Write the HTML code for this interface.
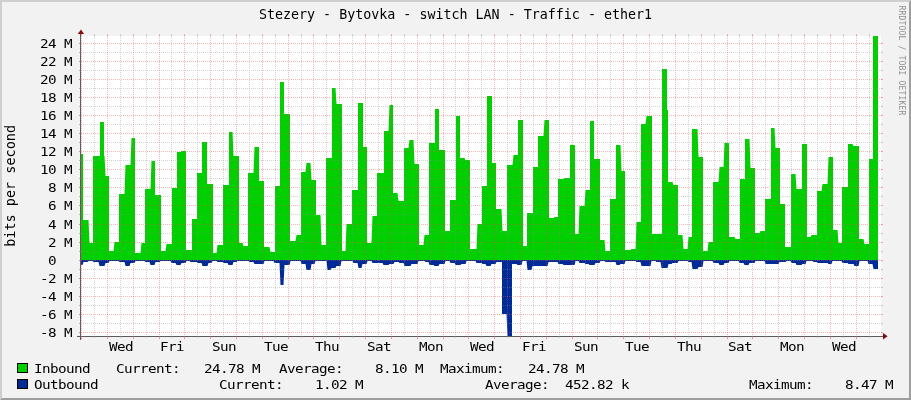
<!DOCTYPE html>
<html><head><meta charset="utf-8"><title>Stezery - Bytovka - switch LAN - Traffic - ether1</title>
<style>html,body{margin:0;padding:0;background:#F2F2F2;}body{width:911px;height:400px;overflow:hidden;}</style>
</head><body>
<svg width="911" height="400" viewBox="0 0 911 400" style="display:block"><rect x="0" y="0" width="911" height="400" fill="#F2F2F2"/><polygon points="0,0 911,0 909,2 2,2 2,398 0,400" fill="#CFCFCF"/><polygon points="911,0 911,400 0,400 2,398 909,398 909,2" fill="#9E9E9E"/><rect x="81" y="36" width="800" height="300" fill="#FFFFFF"/><path d="M81,260 L81,154 L83,154 L83,220 L88.5,220 L89.5,243 L93,243 L93,156 L100,156 L100,122 L104,122 L104,156 L104.5,156 L105.5,176 L109,176 L109,251 L113.5,251 L114.5,242 L119,242 L119,194 L124.5,194 L125.5,165 L130.5,165 L131.5,138 L135,138 L135,253 L140.5,253 L141.5,243 L145,243 L145,189 L150.5,189 L151.5,161 L155,161 L155,195 L161,195 L161,251 L165.5,251 L166.5,244 L172,244 L172,188 L177,188 L177,152 L180.5,152 L181.5,151 L186,151 L186,250 L192,250 L192,219 L197,219 L197,173 L202,173 L202,142 L207,142 L207,184 L213,184 L213,253 L216.5,253 L217.5,245 L223,245 L223,185 L229,185 L229,132 L232.5,132 L233.5,156 L239,156 L239,243 L242.5,243 L243.5,246 L248,246 L248,173 L253.5,173 L254.5,147 L259,147 L259,181 L264,181 L264,247 L269.5,247 L270.5,252 L275,252 L275,186 L280,186 L280,82 L284,82 L284,114 L290,114 L290,241 L295.5,241 L296.5,235 L301,235 L301,172 L305.5,172 L306.5,163 L310.5,163 L311.5,180 L316,180 L316,215 L320.5,215 L321.5,245 L326,245 L326,158 L332,158 L332,88 L335.5,88 L336.5,104 L342,104 L342,251 L345.5,251 L346.5,224 L352,224 L352,190 L358,190 L358,103 L363,103 L363,147 L367,147 L367,243 L371.5,243 L372.5,216 L377,216 L377,173 L384,173 L384,131 L388.5,131 L389.5,105 L393,105 L393,193 L397.5,193 L398.5,201 L404,201 L404,148 L408.5,148 L409.5,140 L413.5,140 L414.5,164 L419,164 L419,245 L423.5,245 L424.5,235 L429,235 L429,143 L435,143 L435,109 L439,109 L439,150 L445,150 L445,231 L450,231 L450,200 L456,200 L456,116 L460,116 L460,158 L464.5,158 L465.5,160 L470,160 L470,249 L476.5,249 L477.5,224 L482,224 L482,186 L487,186 L487,96 L492,96 L492,163 L496,163 L496,209 L501.5,209 L502.5,231 L507,231 L507,165 L512.5,165 L513.5,155 L518,155 L518,120 L523,120 L523,246 L527,246 L527,213 L533,213 L533,167 L538,167 L538,136 L543.5,136 L544.5,120 L549,120 L549,218 L553.5,218 L554.5,217 L558,217 L558,179 L563.5,179 L564.5,178 L570,178 L570,145 L575,145 L575,234 L578.5,234 L579.5,206 L584.5,206 L585.5,190 L590,190 L590,121 L594,121 L594,159 L600,159 L600,240 L604.5,240 L605.5,251 L610,251 L610,199 L616,199 L616,145 L620.5,145 L621.5,171 L625,171 L625,250 L630.5,250 L631.5,249 L635.5,249 L636.5,222 L641,222 L641,124 L645.5,124 L646.5,116 L652,116 L652,234 L662,234 L662,69 L667,69 L667,110 L668,110 L668,182 L672.5,182 L673.5,185 L678,185 L678,235 L682.5,235 L683.5,249 L687.5,249 L688.5,237 L692,237 L692,129 L697.5,129 L698.5,157 L703,157 L703,251 L707.5,251 L708.5,242 L713,242 L713,182 L718.5,182 L719.5,167 L723.5,167 L724.5,143 L729,143 L729,237 L734.5,237 L735.5,239 L740,239 L740,179 L745,179 L745,139 L749.5,139 L750.5,168 L755,168 L755,233 L759.5,233 L760.5,231 L765,231 L765,199 L771,199 L771,128 L774.5,128 L775.5,148 L780,148 L780,204 L785,204 L785,247 L791,247 L791,174 L795.5,174 L796.5,189 L802,189 L802,144 L807,144 L807,237 L810.5,237 L811.5,235 L817,235 L817,191 L821.5,191 L822.5,184 L827.5,184 L828.5,157 L833,157 L833,230 L837.5,230 L838.5,243 L842,243 L842,187 L848,187 L848,144 L852.5,144 L853.5,146 L859,146 L859,239 L863.5,239 L864.5,244 L869,244 L869,159 L873,159 L873,36 L878,36 L878,260Z" fill="#00CF00"/><path d="M81,260 L81,265 L82.5,265 L83.5,262 L87.5,262 L88.5,261 L92.5,261 L93.5,262 L98.5,262 L99.5,266 L104.5,266 L105.5,263 L108.5,263 L109.5,261 L114.5,261 L115.5,261 L118.5,261 L119.5,262 L124.5,262 L125.5,266 L129.5,266 L130.5,263 L134.5,263 L135.5,261 L144.5,261 L145.5,262 L149.5,262 L150.5,265 L154.5,265 L155.5,262 L159.5,262 L160.5,261 L170.5,261 L171.5,263 L175.5,263 L176.5,265 L180.5,265 L181.5,263 L185.5,263 L186.5,261 L189.5,261 L190.5,262 L196.5,262 L197.5,263 L201.5,263 L202.5,266 L207.5,266 L208.5,263 L211.5,263 L212.5,261 L216.5,261 L217.5,262 L222.5,262 L223.5,263 L227.5,263 L228.5,265 L232.5,265 L233.5,262 L236.5,262 L237.5,261 L248.5,261 L249.5,262 L253.5,262 L254.5,264 L263.5,264 L264.5,261 L273.5,261 L274.5,263 L279.5,263 L280.5,285 L283.5,285 L284.5,265 L289.5,265 L290.5,261 L300.5,261 L301.5,264 L305.5,264 L306.5,270 L310.5,270 L311.5,264 L314.5,264 L315.5,261 L326.5,261 L327.5,270 L330.5,270 L331.5,268 L335.5,268 L336.5,266 L340.5,266 L341.5,261 L352.5,261 L353.5,263 L357.5,263 L358.5,268 L361.5,268 L362.5,264 L366.5,264 L367.5,261 L371.5,261 L372.5,263 L382.5,263 L383.5,265 L388.5,265 L389.5,264 L393.5,264 L394.5,262 L398.5,262 L399.5,263 L403.5,263 L404.5,266 L410.5,266 L411.5,264 L417.5,264 L418.5,261 L424.5,261 L425.5,262 L428.5,262 L429.5,265 L433.5,265 L434.5,266 L438.5,266 L439.5,264 L444.5,264 L445.5,261 L449.5,261 L450.5,263 L454.5,263 L455.5,265 L460.5,265 L461.5,264 L465.5,264 L466.5,261 L475.5,261 L476.5,263 L481.5,263 L482.5,264 L485.5,264 L486.5,266 L490.5,266 L491.5,264 L495.5,264 L496.5,262 L502,262 L502,314 L506.5,314 L507.5,336 L512,336 L512,264 L516.5,264 L517.5,265 L521.5,265 L522.5,261 L526.5,261 L527.5,270 L531.5,270 L532.5,266 L543.5,266 L544.5,266 L547.5,266 L548.5,262 L557.5,262 L558.5,264 L562.5,264 L563.5,265 L574.5,265 L575.5,261 L578.5,261 L579.5,263 L584.5,263 L585.5,264 L588.5,264 L589.5,265 L594.5,265 L595.5,263 L599.5,263 L600.5,261 L604.5,261 L605.5,262 L615.5,262 L616.5,265 L619.5,265 L620.5,264 L624.5,264 L625.5,261 L635.5,261 L636.5,262 L640.5,262 L641.5,266 L650.5,266 L651.5,261 L655.5,261 L656.5,262 L660.5,262 L661.5,268 L667.5,268 L668.5,264 L671.5,264 L672.5,263 L677.5,263 L678.5,261 L687.5,261 L688.5,262 L691.5,262 L692.5,269 L697.5,269 L698.5,267 L702.5,267 L703.5,261 L712.5,261 L713.5,263 L718.5,263 L719.5,265 L723.5,265 L724.5,263 L728.5,263 L729.5,261 L738.5,261 L739.5,263 L743.5,263 L744.5,265 L748.5,265 L749.5,263 L754.5,263 L755.5,261 L764.5,261 L765.5,264 L778.5,264 L779.5,262 L785.5,262 L786.5,261 L790.5,261 L791.5,263 L795.5,263 L796.5,265 L801.5,265 L802.5,264 L805.5,264 L806.5,261 L812.5,261 L813.5,262 L816.5,262 L817.5,263 L827.5,263 L828.5,264 L831.5,264 L832.5,261 L841.5,261 L842.5,263 L847.5,263 L848.5,264 L853.5,264 L854.5,266 L858.5,266 L859.5,261 L867.5,261 L868.5,264 L872.5,264 L873.5,269 L878,269 L878,260Z" fill="#002A97"/><rect x="80" y="34" width="1" height="306" fill="#5C5C5C"/><rect x="77" y="336" width="807" height="1" fill="#5C5C5C"/><g shape-rendering="crispEdges"><line x1="79" y1="332.5" x2="883" y2="332.5" stroke="rgba(222,80,80,0.42)" stroke-width="1" stroke-dasharray="1 1"/><line x1="79" y1="332.5" x2="81" y2="332.5" stroke="rgba(222,80,80,0.42)" stroke-width="1"/><line x1="881" y1="332.5" x2="883" y2="332.5" stroke="rgba(222,80,80,0.42)" stroke-width="1"/><line x1="79" y1="323.5" x2="883" y2="323.5" stroke="rgba(143,143,143,0.38)" stroke-width="1" stroke-dasharray="1 1"/><line x1="79" y1="323.5" x2="81" y2="323.5" stroke="rgba(143,143,143,0.38)" stroke-width="1"/><line x1="881" y1="323.5" x2="883" y2="323.5" stroke="rgba(143,143,143,0.38)" stroke-width="1"/><line x1="79" y1="314.5" x2="883" y2="314.5" stroke="rgba(222,80,80,0.42)" stroke-width="1" stroke-dasharray="1 1"/><line x1="79" y1="314.5" x2="81" y2="314.5" stroke="rgba(222,80,80,0.42)" stroke-width="1"/><line x1="881" y1="314.5" x2="883" y2="314.5" stroke="rgba(222,80,80,0.42)" stroke-width="1"/><line x1="79" y1="305.5" x2="883" y2="305.5" stroke="rgba(143,143,143,0.38)" stroke-width="1" stroke-dasharray="1 1"/><line x1="79" y1="305.5" x2="81" y2="305.5" stroke="rgba(143,143,143,0.38)" stroke-width="1"/><line x1="881" y1="305.5" x2="883" y2="305.5" stroke="rgba(143,143,143,0.38)" stroke-width="1"/><line x1="79" y1="296.5" x2="883" y2="296.5" stroke="rgba(222,80,80,0.42)" stroke-width="1" stroke-dasharray="1 1"/><line x1="79" y1="296.5" x2="81" y2="296.5" stroke="rgba(222,80,80,0.42)" stroke-width="1"/><line x1="881" y1="296.5" x2="883" y2="296.5" stroke="rgba(222,80,80,0.42)" stroke-width="1"/><line x1="79" y1="287.5" x2="883" y2="287.5" stroke="rgba(143,143,143,0.38)" stroke-width="1" stroke-dasharray="1 1"/><line x1="79" y1="287.5" x2="81" y2="287.5" stroke="rgba(143,143,143,0.38)" stroke-width="1"/><line x1="881" y1="287.5" x2="883" y2="287.5" stroke="rgba(143,143,143,0.38)" stroke-width="1"/><line x1="79" y1="278.5" x2="883" y2="278.5" stroke="rgba(222,80,80,0.42)" stroke-width="1" stroke-dasharray="1 1"/><line x1="79" y1="278.5" x2="81" y2="278.5" stroke="rgba(222,80,80,0.42)" stroke-width="1"/><line x1="881" y1="278.5" x2="883" y2="278.5" stroke="rgba(222,80,80,0.42)" stroke-width="1"/><line x1="79" y1="269.5" x2="883" y2="269.5" stroke="rgba(143,143,143,0.38)" stroke-width="1" stroke-dasharray="1 1"/><line x1="79" y1="269.5" x2="81" y2="269.5" stroke="rgba(143,143,143,0.38)" stroke-width="1"/><line x1="881" y1="269.5" x2="883" y2="269.5" stroke="rgba(143,143,143,0.38)" stroke-width="1"/><line x1="79" y1="260.5" x2="883" y2="260.5" stroke="rgba(222,80,80,0.42)" stroke-width="1" stroke-dasharray="1 1"/><line x1="79" y1="260.5" x2="81" y2="260.5" stroke="rgba(222,80,80,0.42)" stroke-width="1"/><line x1="881" y1="260.5" x2="883" y2="260.5" stroke="rgba(222,80,80,0.42)" stroke-width="1"/><line x1="79" y1="251.5" x2="883" y2="251.5" stroke="rgba(143,143,143,0.38)" stroke-width="1" stroke-dasharray="1 1"/><line x1="79" y1="251.5" x2="81" y2="251.5" stroke="rgba(143,143,143,0.38)" stroke-width="1"/><line x1="881" y1="251.5" x2="883" y2="251.5" stroke="rgba(143,143,143,0.38)" stroke-width="1"/><line x1="79" y1="242.5" x2="883" y2="242.5" stroke="rgba(222,80,80,0.42)" stroke-width="1" stroke-dasharray="1 1"/><line x1="79" y1="242.5" x2="81" y2="242.5" stroke="rgba(222,80,80,0.42)" stroke-width="1"/><line x1="881" y1="242.5" x2="883" y2="242.5" stroke="rgba(222,80,80,0.42)" stroke-width="1"/><line x1="79" y1="233.5" x2="883" y2="233.5" stroke="rgba(143,143,143,0.38)" stroke-width="1" stroke-dasharray="1 1"/><line x1="79" y1="233.5" x2="81" y2="233.5" stroke="rgba(143,143,143,0.38)" stroke-width="1"/><line x1="881" y1="233.5" x2="883" y2="233.5" stroke="rgba(143,143,143,0.38)" stroke-width="1"/><line x1="79" y1="224.5" x2="883" y2="224.5" stroke="rgba(222,80,80,0.42)" stroke-width="1" stroke-dasharray="1 1"/><line x1="79" y1="224.5" x2="81" y2="224.5" stroke="rgba(222,80,80,0.42)" stroke-width="1"/><line x1="881" y1="224.5" x2="883" y2="224.5" stroke="rgba(222,80,80,0.42)" stroke-width="1"/><line x1="79" y1="214.5" x2="883" y2="214.5" stroke="rgba(143,143,143,0.38)" stroke-width="1" stroke-dasharray="1 1"/><line x1="79" y1="214.5" x2="81" y2="214.5" stroke="rgba(143,143,143,0.38)" stroke-width="1"/><line x1="881" y1="214.5" x2="883" y2="214.5" stroke="rgba(143,143,143,0.38)" stroke-width="1"/><line x1="79" y1="205.5" x2="883" y2="205.5" stroke="rgba(222,80,80,0.42)" stroke-width="1" stroke-dasharray="1 1"/><line x1="79" y1="205.5" x2="81" y2="205.5" stroke="rgba(222,80,80,0.42)" stroke-width="1"/><line x1="881" y1="205.5" x2="883" y2="205.5" stroke="rgba(222,80,80,0.42)" stroke-width="1"/><line x1="79" y1="196.5" x2="883" y2="196.5" stroke="rgba(143,143,143,0.38)" stroke-width="1" stroke-dasharray="1 1"/><line x1="79" y1="196.5" x2="81" y2="196.5" stroke="rgba(143,143,143,0.38)" stroke-width="1"/><line x1="881" y1="196.5" x2="883" y2="196.5" stroke="rgba(143,143,143,0.38)" stroke-width="1"/><line x1="79" y1="187.5" x2="883" y2="187.5" stroke="rgba(222,80,80,0.42)" stroke-width="1" stroke-dasharray="1 1"/><line x1="79" y1="187.5" x2="81" y2="187.5" stroke="rgba(222,80,80,0.42)" stroke-width="1"/><line x1="881" y1="187.5" x2="883" y2="187.5" stroke="rgba(222,80,80,0.42)" stroke-width="1"/><line x1="79" y1="178.5" x2="883" y2="178.5" stroke="rgba(143,143,143,0.38)" stroke-width="1" stroke-dasharray="1 1"/><line x1="79" y1="178.5" x2="81" y2="178.5" stroke="rgba(143,143,143,0.38)" stroke-width="1"/><line x1="881" y1="178.5" x2="883" y2="178.5" stroke="rgba(143,143,143,0.38)" stroke-width="1"/><line x1="79" y1="169.5" x2="883" y2="169.5" stroke="rgba(222,80,80,0.42)" stroke-width="1" stroke-dasharray="1 1"/><line x1="79" y1="169.5" x2="81" y2="169.5" stroke="rgba(222,80,80,0.42)" stroke-width="1"/><line x1="881" y1="169.5" x2="883" y2="169.5" stroke="rgba(222,80,80,0.42)" stroke-width="1"/><line x1="79" y1="160.5" x2="883" y2="160.5" stroke="rgba(143,143,143,0.38)" stroke-width="1" stroke-dasharray="1 1"/><line x1="79" y1="160.5" x2="81" y2="160.5" stroke="rgba(143,143,143,0.38)" stroke-width="1"/><line x1="881" y1="160.5" x2="883" y2="160.5" stroke="rgba(143,143,143,0.38)" stroke-width="1"/><line x1="79" y1="151.5" x2="883" y2="151.5" stroke="rgba(222,80,80,0.42)" stroke-width="1" stroke-dasharray="1 1"/><line x1="79" y1="151.5" x2="81" y2="151.5" stroke="rgba(222,80,80,0.42)" stroke-width="1"/><line x1="881" y1="151.5" x2="883" y2="151.5" stroke="rgba(222,80,80,0.42)" stroke-width="1"/><line x1="79" y1="142.5" x2="883" y2="142.5" stroke="rgba(143,143,143,0.38)" stroke-width="1" stroke-dasharray="1 1"/><line x1="79" y1="142.5" x2="81" y2="142.5" stroke="rgba(143,143,143,0.38)" stroke-width="1"/><line x1="881" y1="142.5" x2="883" y2="142.5" stroke="rgba(143,143,143,0.38)" stroke-width="1"/><line x1="79" y1="133.5" x2="883" y2="133.5" stroke="rgba(222,80,80,0.42)" stroke-width="1" stroke-dasharray="1 1"/><line x1="79" y1="133.5" x2="81" y2="133.5" stroke="rgba(222,80,80,0.42)" stroke-width="1"/><line x1="881" y1="133.5" x2="883" y2="133.5" stroke="rgba(222,80,80,0.42)" stroke-width="1"/><line x1="79" y1="124.5" x2="883" y2="124.5" stroke="rgba(143,143,143,0.38)" stroke-width="1" stroke-dasharray="1 1"/><line x1="79" y1="124.5" x2="81" y2="124.5" stroke="rgba(143,143,143,0.38)" stroke-width="1"/><line x1="881" y1="124.5" x2="883" y2="124.5" stroke="rgba(143,143,143,0.38)" stroke-width="1"/><line x1="79" y1="115.5" x2="883" y2="115.5" stroke="rgba(222,80,80,0.42)" stroke-width="1" stroke-dasharray="1 1"/><line x1="79" y1="115.5" x2="81" y2="115.5" stroke="rgba(222,80,80,0.42)" stroke-width="1"/><line x1="881" y1="115.5" x2="883" y2="115.5" stroke="rgba(222,80,80,0.42)" stroke-width="1"/><line x1="79" y1="106.5" x2="883" y2="106.5" stroke="rgba(143,143,143,0.38)" stroke-width="1" stroke-dasharray="1 1"/><line x1="79" y1="106.5" x2="81" y2="106.5" stroke="rgba(143,143,143,0.38)" stroke-width="1"/><line x1="881" y1="106.5" x2="883" y2="106.5" stroke="rgba(143,143,143,0.38)" stroke-width="1"/><line x1="79" y1="97.5" x2="883" y2="97.5" stroke="rgba(222,80,80,0.42)" stroke-width="1" stroke-dasharray="1 1"/><line x1="79" y1="97.5" x2="81" y2="97.5" stroke="rgba(222,80,80,0.42)" stroke-width="1"/><line x1="881" y1="97.5" x2="883" y2="97.5" stroke="rgba(222,80,80,0.42)" stroke-width="1"/><line x1="79" y1="88.5" x2="883" y2="88.5" stroke="rgba(143,143,143,0.38)" stroke-width="1" stroke-dasharray="1 1"/><line x1="79" y1="88.5" x2="81" y2="88.5" stroke="rgba(143,143,143,0.38)" stroke-width="1"/><line x1="881" y1="88.5" x2="883" y2="88.5" stroke="rgba(143,143,143,0.38)" stroke-width="1"/><line x1="79" y1="79.5" x2="883" y2="79.5" stroke="rgba(222,80,80,0.42)" stroke-width="1" stroke-dasharray="1 1"/><line x1="79" y1="79.5" x2="81" y2="79.5" stroke="rgba(222,80,80,0.42)" stroke-width="1"/><line x1="881" y1="79.5" x2="883" y2="79.5" stroke="rgba(222,80,80,0.42)" stroke-width="1"/><line x1="79" y1="70.5" x2="883" y2="70.5" stroke="rgba(143,143,143,0.38)" stroke-width="1" stroke-dasharray="1 1"/><line x1="79" y1="70.5" x2="81" y2="70.5" stroke="rgba(143,143,143,0.38)" stroke-width="1"/><line x1="881" y1="70.5" x2="883" y2="70.5" stroke="rgba(143,143,143,0.38)" stroke-width="1"/><line x1="79" y1="61.5" x2="883" y2="61.5" stroke="rgba(222,80,80,0.42)" stroke-width="1" stroke-dasharray="1 1"/><line x1="79" y1="61.5" x2="81" y2="61.5" stroke="rgba(222,80,80,0.42)" stroke-width="1"/><line x1="881" y1="61.5" x2="883" y2="61.5" stroke="rgba(222,80,80,0.42)" stroke-width="1"/><line x1="79" y1="52.5" x2="883" y2="52.5" stroke="rgba(143,143,143,0.38)" stroke-width="1" stroke-dasharray="1 1"/><line x1="79" y1="52.5" x2="81" y2="52.5" stroke="rgba(143,143,143,0.38)" stroke-width="1"/><line x1="881" y1="52.5" x2="883" y2="52.5" stroke="rgba(143,143,143,0.38)" stroke-width="1"/><line x1="79" y1="43.5" x2="883" y2="43.5" stroke="rgba(222,80,80,0.42)" stroke-width="1" stroke-dasharray="1 1"/><line x1="79" y1="43.5" x2="81" y2="43.5" stroke="rgba(222,80,80,0.42)" stroke-width="1"/><line x1="881" y1="43.5" x2="883" y2="43.5" stroke="rgba(222,80,80,0.42)" stroke-width="1"/><line x1="81.5" y1="36" x2="81.5" y2="339" stroke="rgba(222,80,80,0.42)" stroke-width="1" stroke-dasharray="1 1"/><line x1="81.5" y1="34" x2="81.5" y2="36" stroke="rgba(222,80,80,0.42)" stroke-width="1"/><line x1="81.5" y1="336" x2="81.5" y2="339" stroke="rgba(222,80,80,0.42)" stroke-width="1"/><line x1="94.5" y1="36" x2="94.5" y2="338" stroke="rgba(143,143,143,0.38)" stroke-width="1" stroke-dasharray="1 1"/><line x1="94.5" y1="34" x2="94.5" y2="36" stroke="rgba(143,143,143,0.38)" stroke-width="1"/><line x1="94.5" y1="336" x2="94.5" y2="338" stroke="rgba(143,143,143,0.38)" stroke-width="1"/><line x1="107.5" y1="36" x2="107.5" y2="339" stroke="rgba(222,80,80,0.42)" stroke-width="1" stroke-dasharray="1 1"/><line x1="107.5" y1="34" x2="107.5" y2="36" stroke="rgba(222,80,80,0.42)" stroke-width="1"/><line x1="107.5" y1="336" x2="107.5" y2="339" stroke="rgba(222,80,80,0.42)" stroke-width="1"/><line x1="120.5" y1="36" x2="120.5" y2="338" stroke="rgba(143,143,143,0.38)" stroke-width="1" stroke-dasharray="1 1"/><line x1="120.5" y1="34" x2="120.5" y2="36" stroke="rgba(143,143,143,0.38)" stroke-width="1"/><line x1="120.5" y1="336" x2="120.5" y2="338" stroke="rgba(143,143,143,0.38)" stroke-width="1"/><line x1="133.5" y1="36" x2="133.5" y2="339" stroke="rgba(222,80,80,0.42)" stroke-width="1" stroke-dasharray="1 1"/><line x1="133.5" y1="34" x2="133.5" y2="36" stroke="rgba(222,80,80,0.42)" stroke-width="1"/><line x1="133.5" y1="336" x2="133.5" y2="339" stroke="rgba(222,80,80,0.42)" stroke-width="1"/><line x1="146.5" y1="36" x2="146.5" y2="338" stroke="rgba(143,143,143,0.38)" stroke-width="1" stroke-dasharray="1 1"/><line x1="146.5" y1="34" x2="146.5" y2="36" stroke="rgba(143,143,143,0.38)" stroke-width="1"/><line x1="146.5" y1="336" x2="146.5" y2="338" stroke="rgba(143,143,143,0.38)" stroke-width="1"/><line x1="159.5" y1="36" x2="159.5" y2="339" stroke="rgba(222,80,80,0.42)" stroke-width="1" stroke-dasharray="1 1"/><line x1="159.5" y1="34" x2="159.5" y2="36" stroke="rgba(222,80,80,0.42)" stroke-width="1"/><line x1="159.5" y1="336" x2="159.5" y2="339" stroke="rgba(222,80,80,0.42)" stroke-width="1"/><line x1="171.5" y1="36" x2="171.5" y2="338" stroke="rgba(143,143,143,0.38)" stroke-width="1" stroke-dasharray="1 1"/><line x1="171.5" y1="34" x2="171.5" y2="36" stroke="rgba(143,143,143,0.38)" stroke-width="1"/><line x1="171.5" y1="336" x2="171.5" y2="338" stroke="rgba(143,143,143,0.38)" stroke-width="1"/><line x1="184.5" y1="36" x2="184.5" y2="339" stroke="rgba(222,80,80,0.42)" stroke-width="1" stroke-dasharray="1 1"/><line x1="184.5" y1="34" x2="184.5" y2="36" stroke="rgba(222,80,80,0.42)" stroke-width="1"/><line x1="184.5" y1="336" x2="184.5" y2="339" stroke="rgba(222,80,80,0.42)" stroke-width="1"/><line x1="197.5" y1="36" x2="197.5" y2="338" stroke="rgba(143,143,143,0.38)" stroke-width="1" stroke-dasharray="1 1"/><line x1="197.5" y1="34" x2="197.5" y2="36" stroke="rgba(143,143,143,0.38)" stroke-width="1"/><line x1="197.5" y1="336" x2="197.5" y2="338" stroke="rgba(143,143,143,0.38)" stroke-width="1"/><line x1="210.5" y1="36" x2="210.5" y2="339" stroke="rgba(222,80,80,0.42)" stroke-width="1" stroke-dasharray="1 1"/><line x1="210.5" y1="34" x2="210.5" y2="36" stroke="rgba(222,80,80,0.42)" stroke-width="1"/><line x1="210.5" y1="336" x2="210.5" y2="339" stroke="rgba(222,80,80,0.42)" stroke-width="1"/><line x1="223.5" y1="36" x2="223.5" y2="338" stroke="rgba(143,143,143,0.38)" stroke-width="1" stroke-dasharray="1 1"/><line x1="223.5" y1="34" x2="223.5" y2="36" stroke="rgba(143,143,143,0.38)" stroke-width="1"/><line x1="223.5" y1="336" x2="223.5" y2="338" stroke="rgba(143,143,143,0.38)" stroke-width="1"/><line x1="236.5" y1="36" x2="236.5" y2="339" stroke="rgba(222,80,80,0.42)" stroke-width="1" stroke-dasharray="1 1"/><line x1="236.5" y1="34" x2="236.5" y2="36" stroke="rgba(222,80,80,0.42)" stroke-width="1"/><line x1="236.5" y1="336" x2="236.5" y2="339" stroke="rgba(222,80,80,0.42)" stroke-width="1"/><line x1="249.5" y1="36" x2="249.5" y2="338" stroke="rgba(143,143,143,0.38)" stroke-width="1" stroke-dasharray="1 1"/><line x1="249.5" y1="34" x2="249.5" y2="36" stroke="rgba(143,143,143,0.38)" stroke-width="1"/><line x1="249.5" y1="336" x2="249.5" y2="338" stroke="rgba(143,143,143,0.38)" stroke-width="1"/><line x1="262.5" y1="36" x2="262.5" y2="339" stroke="rgba(222,80,80,0.42)" stroke-width="1" stroke-dasharray="1 1"/><line x1="262.5" y1="34" x2="262.5" y2="36" stroke="rgba(222,80,80,0.42)" stroke-width="1"/><line x1="262.5" y1="336" x2="262.5" y2="339" stroke="rgba(222,80,80,0.42)" stroke-width="1"/><line x1="275.5" y1="36" x2="275.5" y2="338" stroke="rgba(143,143,143,0.38)" stroke-width="1" stroke-dasharray="1 1"/><line x1="275.5" y1="34" x2="275.5" y2="36" stroke="rgba(143,143,143,0.38)" stroke-width="1"/><line x1="275.5" y1="336" x2="275.5" y2="338" stroke="rgba(143,143,143,0.38)" stroke-width="1"/><line x1="288.5" y1="36" x2="288.5" y2="339" stroke="rgba(222,80,80,0.42)" stroke-width="1" stroke-dasharray="1 1"/><line x1="288.5" y1="34" x2="288.5" y2="36" stroke="rgba(222,80,80,0.42)" stroke-width="1"/><line x1="288.5" y1="336" x2="288.5" y2="339" stroke="rgba(222,80,80,0.42)" stroke-width="1"/><line x1="301.5" y1="36" x2="301.5" y2="338" stroke="rgba(143,143,143,0.38)" stroke-width="1" stroke-dasharray="1 1"/><line x1="301.5" y1="34" x2="301.5" y2="36" stroke="rgba(143,143,143,0.38)" stroke-width="1"/><line x1="301.5" y1="336" x2="301.5" y2="338" stroke="rgba(143,143,143,0.38)" stroke-width="1"/><line x1="313.5" y1="36" x2="313.5" y2="339" stroke="rgba(222,80,80,0.42)" stroke-width="1" stroke-dasharray="1 1"/><line x1="313.5" y1="34" x2="313.5" y2="36" stroke="rgba(222,80,80,0.42)" stroke-width="1"/><line x1="313.5" y1="336" x2="313.5" y2="339" stroke="rgba(222,80,80,0.42)" stroke-width="1"/><line x1="326.5" y1="36" x2="326.5" y2="338" stroke="rgba(143,143,143,0.38)" stroke-width="1" stroke-dasharray="1 1"/><line x1="326.5" y1="34" x2="326.5" y2="36" stroke="rgba(143,143,143,0.38)" stroke-width="1"/><line x1="326.5" y1="336" x2="326.5" y2="338" stroke="rgba(143,143,143,0.38)" stroke-width="1"/><line x1="339.5" y1="36" x2="339.5" y2="339" stroke="rgba(222,80,80,0.42)" stroke-width="1" stroke-dasharray="1 1"/><line x1="339.5" y1="34" x2="339.5" y2="36" stroke="rgba(222,80,80,0.42)" stroke-width="1"/><line x1="339.5" y1="336" x2="339.5" y2="339" stroke="rgba(222,80,80,0.42)" stroke-width="1"/><line x1="352.5" y1="36" x2="352.5" y2="338" stroke="rgba(143,143,143,0.38)" stroke-width="1" stroke-dasharray="1 1"/><line x1="352.5" y1="34" x2="352.5" y2="36" stroke="rgba(143,143,143,0.38)" stroke-width="1"/><line x1="352.5" y1="336" x2="352.5" y2="338" stroke="rgba(143,143,143,0.38)" stroke-width="1"/><line x1="365.5" y1="36" x2="365.5" y2="339" stroke="rgba(222,80,80,0.42)" stroke-width="1" stroke-dasharray="1 1"/><line x1="365.5" y1="34" x2="365.5" y2="36" stroke="rgba(222,80,80,0.42)" stroke-width="1"/><line x1="365.5" y1="336" x2="365.5" y2="339" stroke="rgba(222,80,80,0.42)" stroke-width="1"/><line x1="378.5" y1="36" x2="378.5" y2="338" stroke="rgba(143,143,143,0.38)" stroke-width="1" stroke-dasharray="1 1"/><line x1="378.5" y1="34" x2="378.5" y2="36" stroke="rgba(143,143,143,0.38)" stroke-width="1"/><line x1="378.5" y1="336" x2="378.5" y2="338" stroke="rgba(143,143,143,0.38)" stroke-width="1"/><line x1="391.5" y1="36" x2="391.5" y2="339" stroke="rgba(222,80,80,0.42)" stroke-width="1" stroke-dasharray="1 1"/><line x1="391.5" y1="34" x2="391.5" y2="36" stroke="rgba(222,80,80,0.42)" stroke-width="1"/><line x1="391.5" y1="336" x2="391.5" y2="339" stroke="rgba(222,80,80,0.42)" stroke-width="1"/><line x1="404.5" y1="36" x2="404.5" y2="338" stroke="rgba(143,143,143,0.38)" stroke-width="1" stroke-dasharray="1 1"/><line x1="404.5" y1="34" x2="404.5" y2="36" stroke="rgba(143,143,143,0.38)" stroke-width="1"/><line x1="404.5" y1="336" x2="404.5" y2="338" stroke="rgba(143,143,143,0.38)" stroke-width="1"/><line x1="417.5" y1="36" x2="417.5" y2="339" stroke="rgba(222,80,80,0.42)" stroke-width="1" stroke-dasharray="1 1"/><line x1="417.5" y1="34" x2="417.5" y2="36" stroke="rgba(222,80,80,0.42)" stroke-width="1"/><line x1="417.5" y1="336" x2="417.5" y2="339" stroke="rgba(222,80,80,0.42)" stroke-width="1"/><line x1="430.5" y1="36" x2="430.5" y2="338" stroke="rgba(143,143,143,0.38)" stroke-width="1" stroke-dasharray="1 1"/><line x1="430.5" y1="34" x2="430.5" y2="36" stroke="rgba(143,143,143,0.38)" stroke-width="1"/><line x1="430.5" y1="336" x2="430.5" y2="338" stroke="rgba(143,143,143,0.38)" stroke-width="1"/><line x1="443.5" y1="36" x2="443.5" y2="339" stroke="rgba(222,80,80,0.42)" stroke-width="1" stroke-dasharray="1 1"/><line x1="443.5" y1="34" x2="443.5" y2="36" stroke="rgba(222,80,80,0.42)" stroke-width="1"/><line x1="443.5" y1="336" x2="443.5" y2="339" stroke="rgba(222,80,80,0.42)" stroke-width="1"/><line x1="455.5" y1="36" x2="455.5" y2="338" stroke="rgba(143,143,143,0.38)" stroke-width="1" stroke-dasharray="1 1"/><line x1="455.5" y1="34" x2="455.5" y2="36" stroke="rgba(143,143,143,0.38)" stroke-width="1"/><line x1="455.5" y1="336" x2="455.5" y2="338" stroke="rgba(143,143,143,0.38)" stroke-width="1"/><line x1="468.5" y1="36" x2="468.5" y2="339" stroke="rgba(222,80,80,0.42)" stroke-width="1" stroke-dasharray="1 1"/><line x1="468.5" y1="34" x2="468.5" y2="36" stroke="rgba(222,80,80,0.42)" stroke-width="1"/><line x1="468.5" y1="336" x2="468.5" y2="339" stroke="rgba(222,80,80,0.42)" stroke-width="1"/><line x1="481.5" y1="36" x2="481.5" y2="338" stroke="rgba(143,143,143,0.38)" stroke-width="1" stroke-dasharray="1 1"/><line x1="481.5" y1="34" x2="481.5" y2="36" stroke="rgba(143,143,143,0.38)" stroke-width="1"/><line x1="481.5" y1="336" x2="481.5" y2="338" stroke="rgba(143,143,143,0.38)" stroke-width="1"/><line x1="494.5" y1="36" x2="494.5" y2="339" stroke="rgba(222,80,80,0.42)" stroke-width="1" stroke-dasharray="1 1"/><line x1="494.5" y1="34" x2="494.5" y2="36" stroke="rgba(222,80,80,0.42)" stroke-width="1"/><line x1="494.5" y1="336" x2="494.5" y2="339" stroke="rgba(222,80,80,0.42)" stroke-width="1"/><line x1="507.5" y1="36" x2="507.5" y2="338" stroke="rgba(143,143,143,0.38)" stroke-width="1" stroke-dasharray="1 1"/><line x1="507.5" y1="34" x2="507.5" y2="36" stroke="rgba(143,143,143,0.38)" stroke-width="1"/><line x1="507.5" y1="336" x2="507.5" y2="338" stroke="rgba(143,143,143,0.38)" stroke-width="1"/><line x1="520.5" y1="36" x2="520.5" y2="339" stroke="rgba(222,80,80,0.42)" stroke-width="1" stroke-dasharray="1 1"/><line x1="520.5" y1="34" x2="520.5" y2="36" stroke="rgba(222,80,80,0.42)" stroke-width="1"/><line x1="520.5" y1="336" x2="520.5" y2="339" stroke="rgba(222,80,80,0.42)" stroke-width="1"/><line x1="533.5" y1="36" x2="533.5" y2="338" stroke="rgba(143,143,143,0.38)" stroke-width="1" stroke-dasharray="1 1"/><line x1="533.5" y1="34" x2="533.5" y2="36" stroke="rgba(143,143,143,0.38)" stroke-width="1"/><line x1="533.5" y1="336" x2="533.5" y2="338" stroke="rgba(143,143,143,0.38)" stroke-width="1"/><line x1="546.5" y1="36" x2="546.5" y2="339" stroke="rgba(222,80,80,0.42)" stroke-width="1" stroke-dasharray="1 1"/><line x1="546.5" y1="34" x2="546.5" y2="36" stroke="rgba(222,80,80,0.42)" stroke-width="1"/><line x1="546.5" y1="336" x2="546.5" y2="339" stroke="rgba(222,80,80,0.42)" stroke-width="1"/><line x1="559.5" y1="36" x2="559.5" y2="338" stroke="rgba(143,143,143,0.38)" stroke-width="1" stroke-dasharray="1 1"/><line x1="559.5" y1="34" x2="559.5" y2="36" stroke="rgba(143,143,143,0.38)" stroke-width="1"/><line x1="559.5" y1="336" x2="559.5" y2="338" stroke="rgba(143,143,143,0.38)" stroke-width="1"/><line x1="572.5" y1="36" x2="572.5" y2="339" stroke="rgba(222,80,80,0.42)" stroke-width="1" stroke-dasharray="1 1"/><line x1="572.5" y1="34" x2="572.5" y2="36" stroke="rgba(222,80,80,0.42)" stroke-width="1"/><line x1="572.5" y1="336" x2="572.5" y2="339" stroke="rgba(222,80,80,0.42)" stroke-width="1"/><line x1="585.5" y1="36" x2="585.5" y2="338" stroke="rgba(143,143,143,0.38)" stroke-width="1" stroke-dasharray="1 1"/><line x1="585.5" y1="34" x2="585.5" y2="36" stroke="rgba(143,143,143,0.38)" stroke-width="1"/><line x1="585.5" y1="336" x2="585.5" y2="338" stroke="rgba(143,143,143,0.38)" stroke-width="1"/><line x1="597.5" y1="36" x2="597.5" y2="339" stroke="rgba(222,80,80,0.42)" stroke-width="1" stroke-dasharray="1 1"/><line x1="597.5" y1="34" x2="597.5" y2="36" stroke="rgba(222,80,80,0.42)" stroke-width="1"/><line x1="597.5" y1="336" x2="597.5" y2="339" stroke="rgba(222,80,80,0.42)" stroke-width="1"/><line x1="610.5" y1="36" x2="610.5" y2="338" stroke="rgba(143,143,143,0.38)" stroke-width="1" stroke-dasharray="1 1"/><line x1="610.5" y1="34" x2="610.5" y2="36" stroke="rgba(143,143,143,0.38)" stroke-width="1"/><line x1="610.5" y1="336" x2="610.5" y2="338" stroke="rgba(143,143,143,0.38)" stroke-width="1"/><line x1="623.5" y1="36" x2="623.5" y2="339" stroke="rgba(222,80,80,0.42)" stroke-width="1" stroke-dasharray="1 1"/><line x1="623.5" y1="34" x2="623.5" y2="36" stroke="rgba(222,80,80,0.42)" stroke-width="1"/><line x1="623.5" y1="336" x2="623.5" y2="339" stroke="rgba(222,80,80,0.42)" stroke-width="1"/><line x1="636.5" y1="36" x2="636.5" y2="338" stroke="rgba(143,143,143,0.38)" stroke-width="1" stroke-dasharray="1 1"/><line x1="636.5" y1="34" x2="636.5" y2="36" stroke="rgba(143,143,143,0.38)" stroke-width="1"/><line x1="636.5" y1="336" x2="636.5" y2="338" stroke="rgba(143,143,143,0.38)" stroke-width="1"/><line x1="649.5" y1="36" x2="649.5" y2="339" stroke="rgba(222,80,80,0.42)" stroke-width="1" stroke-dasharray="1 1"/><line x1="649.5" y1="34" x2="649.5" y2="36" stroke="rgba(222,80,80,0.42)" stroke-width="1"/><line x1="649.5" y1="336" x2="649.5" y2="339" stroke="rgba(222,80,80,0.42)" stroke-width="1"/><line x1="662.5" y1="36" x2="662.5" y2="338" stroke="rgba(143,143,143,0.38)" stroke-width="1" stroke-dasharray="1 1"/><line x1="662.5" y1="34" x2="662.5" y2="36" stroke="rgba(143,143,143,0.38)" stroke-width="1"/><line x1="662.5" y1="336" x2="662.5" y2="338" stroke="rgba(143,143,143,0.38)" stroke-width="1"/><line x1="675.5" y1="36" x2="675.5" y2="339" stroke="rgba(222,80,80,0.42)" stroke-width="1" stroke-dasharray="1 1"/><line x1="675.5" y1="34" x2="675.5" y2="36" stroke="rgba(222,80,80,0.42)" stroke-width="1"/><line x1="675.5" y1="336" x2="675.5" y2="339" stroke="rgba(222,80,80,0.42)" stroke-width="1"/><line x1="688.5" y1="36" x2="688.5" y2="338" stroke="rgba(143,143,143,0.38)" stroke-width="1" stroke-dasharray="1 1"/><line x1="688.5" y1="34" x2="688.5" y2="36" stroke="rgba(143,143,143,0.38)" stroke-width="1"/><line x1="688.5" y1="336" x2="688.5" y2="338" stroke="rgba(143,143,143,0.38)" stroke-width="1"/><line x1="701.5" y1="36" x2="701.5" y2="339" stroke="rgba(222,80,80,0.42)" stroke-width="1" stroke-dasharray="1 1"/><line x1="701.5" y1="34" x2="701.5" y2="36" stroke="rgba(222,80,80,0.42)" stroke-width="1"/><line x1="701.5" y1="336" x2="701.5" y2="339" stroke="rgba(222,80,80,0.42)" stroke-width="1"/><line x1="714.5" y1="36" x2="714.5" y2="338" stroke="rgba(143,143,143,0.38)" stroke-width="1" stroke-dasharray="1 1"/><line x1="714.5" y1="34" x2="714.5" y2="36" stroke="rgba(143,143,143,0.38)" stroke-width="1"/><line x1="714.5" y1="336" x2="714.5" y2="338" stroke="rgba(143,143,143,0.38)" stroke-width="1"/><line x1="727.5" y1="36" x2="727.5" y2="339" stroke="rgba(222,80,80,0.42)" stroke-width="1" stroke-dasharray="1 1"/><line x1="727.5" y1="34" x2="727.5" y2="36" stroke="rgba(222,80,80,0.42)" stroke-width="1"/><line x1="727.5" y1="336" x2="727.5" y2="339" stroke="rgba(222,80,80,0.42)" stroke-width="1"/><line x1="739.5" y1="36" x2="739.5" y2="338" stroke="rgba(143,143,143,0.38)" stroke-width="1" stroke-dasharray="1 1"/><line x1="739.5" y1="34" x2="739.5" y2="36" stroke="rgba(143,143,143,0.38)" stroke-width="1"/><line x1="739.5" y1="336" x2="739.5" y2="338" stroke="rgba(143,143,143,0.38)" stroke-width="1"/><line x1="752.5" y1="36" x2="752.5" y2="339" stroke="rgba(222,80,80,0.42)" stroke-width="1" stroke-dasharray="1 1"/><line x1="752.5" y1="34" x2="752.5" y2="36" stroke="rgba(222,80,80,0.42)" stroke-width="1"/><line x1="752.5" y1="336" x2="752.5" y2="339" stroke="rgba(222,80,80,0.42)" stroke-width="1"/><line x1="765.5" y1="36" x2="765.5" y2="338" stroke="rgba(143,143,143,0.38)" stroke-width="1" stroke-dasharray="1 1"/><line x1="765.5" y1="34" x2="765.5" y2="36" stroke="rgba(143,143,143,0.38)" stroke-width="1"/><line x1="765.5" y1="336" x2="765.5" y2="338" stroke="rgba(143,143,143,0.38)" stroke-width="1"/><line x1="778.5" y1="36" x2="778.5" y2="339" stroke="rgba(222,80,80,0.42)" stroke-width="1" stroke-dasharray="1 1"/><line x1="778.5" y1="34" x2="778.5" y2="36" stroke="rgba(222,80,80,0.42)" stroke-width="1"/><line x1="778.5" y1="336" x2="778.5" y2="339" stroke="rgba(222,80,80,0.42)" stroke-width="1"/><line x1="791.5" y1="36" x2="791.5" y2="338" stroke="rgba(143,143,143,0.38)" stroke-width="1" stroke-dasharray="1 1"/><line x1="791.5" y1="34" x2="791.5" y2="36" stroke="rgba(143,143,143,0.38)" stroke-width="1"/><line x1="791.5" y1="336" x2="791.5" y2="338" stroke="rgba(143,143,143,0.38)" stroke-width="1"/><line x1="804.5" y1="36" x2="804.5" y2="339" stroke="rgba(222,80,80,0.42)" stroke-width="1" stroke-dasharray="1 1"/><line x1="804.5" y1="34" x2="804.5" y2="36" stroke="rgba(222,80,80,0.42)" stroke-width="1"/><line x1="804.5" y1="336" x2="804.5" y2="339" stroke="rgba(222,80,80,0.42)" stroke-width="1"/><line x1="817.5" y1="36" x2="817.5" y2="338" stroke="rgba(143,143,143,0.38)" stroke-width="1" stroke-dasharray="1 1"/><line x1="817.5" y1="34" x2="817.5" y2="36" stroke="rgba(143,143,143,0.38)" stroke-width="1"/><line x1="817.5" y1="336" x2="817.5" y2="338" stroke="rgba(143,143,143,0.38)" stroke-width="1"/><line x1="830.5" y1="36" x2="830.5" y2="339" stroke="rgba(222,80,80,0.42)" stroke-width="1" stroke-dasharray="1 1"/><line x1="830.5" y1="34" x2="830.5" y2="36" stroke="rgba(222,80,80,0.42)" stroke-width="1"/><line x1="830.5" y1="336" x2="830.5" y2="339" stroke="rgba(222,80,80,0.42)" stroke-width="1"/><line x1="843.5" y1="36" x2="843.5" y2="338" stroke="rgba(143,143,143,0.38)" stroke-width="1" stroke-dasharray="1 1"/><line x1="843.5" y1="34" x2="843.5" y2="36" stroke="rgba(143,143,143,0.38)" stroke-width="1"/><line x1="843.5" y1="336" x2="843.5" y2="338" stroke="rgba(143,143,143,0.38)" stroke-width="1"/><line x1="856.5" y1="36" x2="856.5" y2="339" stroke="rgba(222,80,80,0.42)" stroke-width="1" stroke-dasharray="1 1"/><line x1="856.5" y1="34" x2="856.5" y2="36" stroke="rgba(222,80,80,0.42)" stroke-width="1"/><line x1="856.5" y1="336" x2="856.5" y2="339" stroke="rgba(222,80,80,0.42)" stroke-width="1"/><line x1="869.5" y1="36" x2="869.5" y2="338" stroke="rgba(143,143,143,0.38)" stroke-width="1" stroke-dasharray="1 1"/><line x1="869.5" y1="34" x2="869.5" y2="36" stroke="rgba(143,143,143,0.38)" stroke-width="1"/><line x1="869.5" y1="336" x2="869.5" y2="338" stroke="rgba(143,143,143,0.38)" stroke-width="1"/></g><polygon points="77.8,34 84.1,34 81,29.4" fill="#860C0C"/><polygon points="883,333.1 883,339.5 887.6,336.3" fill="#860C0C"/><text x="455.5" y="19" font-family="'DejaVu Sans Mono', monospace" font-size="13.33" text-anchor="middle" fill="#000" xml:space="preserve" >Stezery - Bytovka - switch LAN - Traffic - ether1</text><text transform="translate(40,337) scale(1,0.9091)" x="0" y="0" font-family="'DejaVu Sans Mono', monospace" font-size="14.300" letter-spacing="-0.609" text-anchor="start" fill="#000" xml:space="preserve">-8 M</text><text transform="translate(40,319) scale(1,0.9091)" x="0" y="0" font-family="'DejaVu Sans Mono', monospace" font-size="14.300" letter-spacing="-0.609" text-anchor="start" fill="#000" xml:space="preserve">-6 M</text><text transform="translate(40,301) scale(1,0.9091)" x="0" y="0" font-family="'DejaVu Sans Mono', monospace" font-size="14.300" letter-spacing="-0.609" text-anchor="start" fill="#000" xml:space="preserve">-4 M</text><text transform="translate(40,283) scale(1,0.9091)" x="0" y="0" font-family="'DejaVu Sans Mono', monospace" font-size="14.300" letter-spacing="-0.609" text-anchor="start" fill="#000" xml:space="preserve">-2 M</text><text transform="translate(48,265) scale(1,0.9091)" x="0" y="0" font-family="'DejaVu Sans Mono', monospace" font-size="14.300" letter-spacing="-0.609" text-anchor="start" fill="#000" xml:space="preserve">0  </text><text transform="translate(48,247) scale(1,0.9091)" x="0" y="0" font-family="'DejaVu Sans Mono', monospace" font-size="14.300" letter-spacing="-0.609" text-anchor="start" fill="#000" xml:space="preserve">2 M</text><text transform="translate(48,229) scale(1,0.9091)" x="0" y="0" font-family="'DejaVu Sans Mono', monospace" font-size="14.300" letter-spacing="-0.609" text-anchor="start" fill="#000" xml:space="preserve">4 M</text><text transform="translate(48,210) scale(1,0.9091)" x="0" y="0" font-family="'DejaVu Sans Mono', monospace" font-size="14.300" letter-spacing="-0.609" text-anchor="start" fill="#000" xml:space="preserve">6 M</text><text transform="translate(48,192) scale(1,0.9091)" x="0" y="0" font-family="'DejaVu Sans Mono', monospace" font-size="14.300" letter-spacing="-0.609" text-anchor="start" fill="#000" xml:space="preserve">8 M</text><text transform="translate(40,174) scale(1,0.9091)" x="0" y="0" font-family="'DejaVu Sans Mono', monospace" font-size="14.300" letter-spacing="-0.609" text-anchor="start" fill="#000" xml:space="preserve">10 M</text><text transform="translate(40,156) scale(1,0.9091)" x="0" y="0" font-family="'DejaVu Sans Mono', monospace" font-size="14.300" letter-spacing="-0.609" text-anchor="start" fill="#000" xml:space="preserve">12 M</text><text transform="translate(40,138) scale(1,0.9091)" x="0" y="0" font-family="'DejaVu Sans Mono', monospace" font-size="14.300" letter-spacing="-0.609" text-anchor="start" fill="#000" xml:space="preserve">14 M</text><text transform="translate(40,120) scale(1,0.9091)" x="0" y="0" font-family="'DejaVu Sans Mono', monospace" font-size="14.300" letter-spacing="-0.609" text-anchor="start" fill="#000" xml:space="preserve">16 M</text><text transform="translate(40,102) scale(1,0.9091)" x="0" y="0" font-family="'DejaVu Sans Mono', monospace" font-size="14.300" letter-spacing="-0.609" text-anchor="start" fill="#000" xml:space="preserve">18 M</text><text transform="translate(40,84) scale(1,0.9091)" x="0" y="0" font-family="'DejaVu Sans Mono', monospace" font-size="14.300" letter-spacing="-0.609" text-anchor="start" fill="#000" xml:space="preserve">20 M</text><text transform="translate(40,66) scale(1,0.9091)" x="0" y="0" font-family="'DejaVu Sans Mono', monospace" font-size="14.300" letter-spacing="-0.609" text-anchor="start" fill="#000" xml:space="preserve">22 M</text><text transform="translate(40,48) scale(1,0.9091)" x="0" y="0" font-family="'DejaVu Sans Mono', monospace" font-size="14.300" letter-spacing="-0.609" text-anchor="start" fill="#000" xml:space="preserve">24 M</text><text transform="translate(15.3,185.9) rotate(-90)" font-family="'DejaVu Sans Mono', monospace" font-size="13.5" text-anchor="middle" fill="#000">bits per second</text><text transform="translate(109,351) scale(1,0.9091)" x="0" y="0" font-family="'DejaVu Sans Mono', monospace" font-size="14.300" letter-spacing="-0.609" text-anchor="start" fill="#000" xml:space="preserve">Wed</text><text transform="translate(160,351) scale(1,0.9091)" x="0" y="0" font-family="'DejaVu Sans Mono', monospace" font-size="14.300" letter-spacing="-0.609" text-anchor="start" fill="#000" xml:space="preserve">Fri</text><text transform="translate(212,351) scale(1,0.9091)" x="0" y="0" font-family="'DejaVu Sans Mono', monospace" font-size="14.300" letter-spacing="-0.609" text-anchor="start" fill="#000" xml:space="preserve">Sun</text><text transform="translate(264,351) scale(1,0.9091)" x="0" y="0" font-family="'DejaVu Sans Mono', monospace" font-size="14.300" letter-spacing="-0.609" text-anchor="start" fill="#000" xml:space="preserve">Tue</text><text transform="translate(315,351) scale(1,0.9091)" x="0" y="0" font-family="'DejaVu Sans Mono', monospace" font-size="14.300" letter-spacing="-0.609" text-anchor="start" fill="#000" xml:space="preserve">Thu</text><text transform="translate(367,351) scale(1,0.9091)" x="0" y="0" font-family="'DejaVu Sans Mono', monospace" font-size="14.300" letter-spacing="-0.609" text-anchor="start" fill="#000" xml:space="preserve">Sat</text><text transform="translate(419,351) scale(1,0.9091)" x="0" y="0" font-family="'DejaVu Sans Mono', monospace" font-size="14.300" letter-spacing="-0.609" text-anchor="start" fill="#000" xml:space="preserve">Mon</text><text transform="translate(470,351) scale(1,0.9091)" x="0" y="0" font-family="'DejaVu Sans Mono', monospace" font-size="14.300" letter-spacing="-0.609" text-anchor="start" fill="#000" xml:space="preserve">Wed</text><text transform="translate(522,351) scale(1,0.9091)" x="0" y="0" font-family="'DejaVu Sans Mono', monospace" font-size="14.300" letter-spacing="-0.609" text-anchor="start" fill="#000" xml:space="preserve">Fri</text><text transform="translate(574,351) scale(1,0.9091)" x="0" y="0" font-family="'DejaVu Sans Mono', monospace" font-size="14.300" letter-spacing="-0.609" text-anchor="start" fill="#000" xml:space="preserve">Sun</text><text transform="translate(625,351) scale(1,0.9091)" x="0" y="0" font-family="'DejaVu Sans Mono', monospace" font-size="14.300" letter-spacing="-0.609" text-anchor="start" fill="#000" xml:space="preserve">Tue</text><text transform="translate(677,351) scale(1,0.9091)" x="0" y="0" font-family="'DejaVu Sans Mono', monospace" font-size="14.300" letter-spacing="-0.609" text-anchor="start" fill="#000" xml:space="preserve">Thu</text><text transform="translate(728,351) scale(1,0.9091)" x="0" y="0" font-family="'DejaVu Sans Mono', monospace" font-size="14.300" letter-spacing="-0.609" text-anchor="start" fill="#000" xml:space="preserve">Sat</text><text transform="translate(780,351) scale(1,0.9091)" x="0" y="0" font-family="'DejaVu Sans Mono', monospace" font-size="14.300" letter-spacing="-0.609" text-anchor="start" fill="#000" xml:space="preserve">Mon</text><text transform="translate(832,351) scale(1,0.9091)" x="0" y="0" font-family="'DejaVu Sans Mono', monospace" font-size="14.300" letter-spacing="-0.609" text-anchor="start" fill="#000" xml:space="preserve">Wed</text><text transform="translate(899.3,5.5) rotate(90)" font-family="'DejaVu Sans Mono', monospace" font-size="8" letter-spacing="0.18" fill="#8F8F8F">RRDTOOL / TOBI OETIKER</text><rect x="17.5" y="363.5" width="10" height="9" fill="#00CF00" stroke="#000" stroke-width="1"/><rect x="17.5" y="379.5" width="10" height="9" fill="#002A97" stroke="#000" stroke-width="1"/><text transform="translate(34,373) scale(1,0.9091)" x="0" y="0" font-family="'DejaVu Sans Mono', monospace" font-size="14.300" letter-spacing="-0.609" text-anchor="start" fill="#000" xml:space="preserve">Inbound</text><text transform="translate(116,373) scale(1,0.9091)" x="0" y="0" font-family="'DejaVu Sans Mono', monospace" font-size="14.300" letter-spacing="-0.609" text-anchor="start" fill="#000" xml:space="preserve">Current:   24.78 M</text><text transform="translate(279,373) scale(1,0.9091)" x="0" y="0" font-family="'DejaVu Sans Mono', monospace" font-size="14.300" letter-spacing="-0.609" text-anchor="start" fill="#000" xml:space="preserve">Average:    8.10 M</text><text transform="translate(440,373) scale(1,0.9091)" x="0" y="0" font-family="'DejaVu Sans Mono', monospace" font-size="14.300" letter-spacing="-0.609" text-anchor="start" fill="#000" xml:space="preserve">Maximum:   24.78 M</text><text transform="translate(34,389) scale(1,0.9091)" x="0" y="0" font-family="'DejaVu Sans Mono', monospace" font-size="14.300" letter-spacing="-0.609" text-anchor="start" fill="#000" xml:space="preserve">Outbound</text><text transform="translate(219,389) scale(1,0.9091)" x="0" y="0" font-family="'DejaVu Sans Mono', monospace" font-size="14.300" letter-spacing="-0.609" text-anchor="start" fill="#000" xml:space="preserve">Current:    1.02 M</text><text transform="translate(485,389) scale(1,0.9091)" x="0" y="0" font-family="'DejaVu Sans Mono', monospace" font-size="14.300" letter-spacing="-0.609" text-anchor="start" fill="#000" xml:space="preserve">Average:  452.82 k</text><text transform="translate(749,389) scale(1,0.9091)" x="0" y="0" font-family="'DejaVu Sans Mono', monospace" font-size="14.300" letter-spacing="-0.609" text-anchor="start" fill="#000" xml:space="preserve">Maximum:    8.47 M</text></svg>
</body></html>
